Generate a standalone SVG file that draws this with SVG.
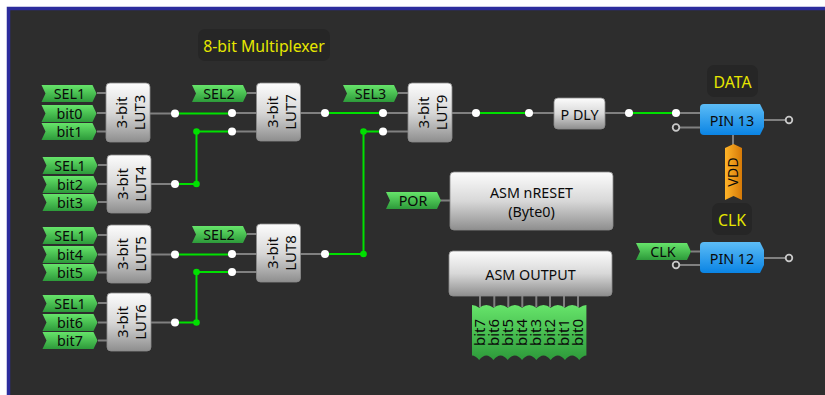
<svg xmlns="http://www.w3.org/2000/svg" width="825" height="395" viewBox="0 0 825 395">
<style>
text{font-family:"Noto Sans","Open Sans",sans-serif;font-size:14.300px;fill:#0a0a0a;text-anchor:middle}
.w{fill:none;stroke:#808080;stroke-width:2}
.g{fill:none;stroke:#00e000;stroke-width:2}
.n{fill:#fff}
.o{fill:#2d2d2d;stroke:#c8c8c8;stroke-width:1.800}
.j{fill:#00e000}
.b{fill:url(#gb);stroke:#8c8c8c;stroke-width:.8}
.t{fill:url(#gt);stroke:none}
.l{fill:#262626}
.y{fill:#e6e600;font-size:15.800px}
.r{font-size:15px}
</style>
<defs>
<linearGradient id="gb" x1="0" y1="0" x2="0" y2="1"><stop offset="0" stop-color="#fcfcfc"/><stop offset=".5" stop-color="#d8d8d8"/><stop offset="1" stop-color="#8e8e8e"/></linearGradient>
<linearGradient id="gt" x1="0" y1="0" x2="0" y2="1"><stop offset="0" stop-color="#66e46a"/><stop offset="1" stop-color="#2d9a3a"/></linearGradient>
<linearGradient id="gp" x1="0" y1="0" x2="0" y2="1"><stop offset="0" stop-color="#5cbcf6"/><stop offset="1" stop-color="#0a84e4"/></linearGradient>
<linearGradient id="go" x1="0" y1="0" x2="1" y2="0"><stop offset="0" stop-color="#ffb428"/><stop offset="1" stop-color="#d67a08"/></linearGradient>
<path id="tag" d="M0 0H51L55 8.500L51 17H0L4 8.500Z"/>
</defs>
<rect width="825" height="395" fill="#fff"/>
<rect x="7" y="7" width="818" height="388" fill="#2d2d2d"/>
<path d="M8.500 395V8.500H825" fill="none" stroke="#2c2c9c" stroke-width="3.500"/>
<g id="connectors">
<path class="w" d="M97 93H106M97 113H106M97 131.500H106M150 113.500H175M98 165H107M98 184H107M98 202H107M151 184H175M98 235H107M98 254.500H107M98 272.500H107M151 254.500H175M98 303H107M98 322.500H107M98 340.500H107M151 322.500H175M247 93H257M232 113H257M232 131.500H257M300 113H325M247 234H257M232 254H257M232 272H257M300 254H325M398 93H408M383 113H408M383 131.500H408M452 113H476M529 113H554M605 113H629M676 113H700M676 127.500H700M764 120H789M733 135V145M691 251.500H700M676 265H700M764 258H789M398 200.500H450M480 296V307M494.300 296V307M508.300 296V307M522.300 296V307M536.300 296V307M550 296V307M564 296V307M578 296V307"/>
<path class="g" d="M175 113.500H232M175 184H196.500V131.500H232M175 254.500H232M175 322.500H196.500V272H232M325 113H383M325 254H363.500V131.500H383M476 113H529M629 113H676"/>
<circle class="j" cx="196.500" cy="131.500" r="3.300"/><circle class="j" cx="196.500" cy="184" r="3.300"/><circle class="j" cx="196.500" cy="272" r="3.300"/><circle class="j" cx="196.500" cy="322.500" r="3.300"/><circle class="j" cx="363.500" cy="131.500" r="3.300"/><circle class="j" cx="363.500" cy="254" r="3.300"/>
<circle class="n" cx="175" cy="113.500" r="4"/><circle class="n" cx="232" cy="113" r="4"/><circle class="n" cx="232" cy="131.500" r="4"/><circle class="n" cx="175" cy="184" r="4"/><circle class="n" cx="175" cy="254.500" r="4"/><circle class="n" cx="232" cy="254" r="4"/><circle class="n" cx="232" cy="272" r="4"/><circle class="n" cx="175" cy="322.500" r="4"/><circle class="n" cx="325" cy="113" r="4"/><circle class="n" cx="325" cy="254" r="4"/><circle class="n" cx="383" cy="113" r="4"/><circle class="n" cx="383" cy="131.500" r="4"/><circle class="n" cx="476" cy="113" r="4"/><circle class="n" cx="529" cy="113" r="4"/><circle class="n" cx="629" cy="113" r="4"/><circle class="n" cx="676" cy="113" r="4"/>
<circle class="o" cx="676" cy="127.500" r="3.300"/><circle class="o" cx="789" cy="120" r="3.300"/><circle class="o" cx="676" cy="265" r="3.300"/><circle class="o" cx="789" cy="258" r="3.300"/>
</g>
<g id="title"><rect class="l" x="198" y="29" width="132" height="32" rx="7"/><text class="y" x="264" y="52">8-bit Multiplexer</text></g>
<g id="label-data"><rect class="l" x="707" y="65" width="51" height="32" rx="7"/><text class="y" x="732.500" y="88">DATA</text></g>
<g id="label-clk"><rect class="l" x="712" y="203" width="40" height="32" rx="7"/><text class="y" x="732" y="226">CLK</text></g>
<g id="tags3">
<use href="#tag" class="t" x="41.500" y="85"/><text x="69.500" y="99">SEL1</text>
<use href="#tag" class="t" x="41.500" y="105"/><text x="69.500" y="119">bit0</text>
<use href="#tag" class="t" x="41.500" y="123"/><text x="69.500" y="137">bit1</text>
</g>
<g id="tags4">
<use href="#tag" class="t" x="42.500" y="157"/><text x="70" y="171">SEL1</text>
<use href="#tag" class="t" x="42.500" y="176"/><text x="70" y="190">bit2</text>
<use href="#tag" class="t" x="42.500" y="194"/><text x="70" y="208">bit3</text>
</g>
<g id="tags5">
<use href="#tag" class="t" x="42.500" y="227"/><text x="70" y="241">SEL1</text>
<use href="#tag" class="t" x="42.500" y="246"/><text x="70" y="260">bit4</text>
<use href="#tag" class="t" x="42.500" y="264"/><text x="70" y="278">bit5</text>
</g>
<g id="tags6">
<use href="#tag" class="t" x="42.500" y="295"/><text x="70" y="309">SEL1</text>
<use href="#tag" class="t" x="42.500" y="314"/><text x="70" y="328">bit6</text>
<use href="#tag" class="t" x="42.500" y="332"/><text x="70" y="346">bit7</text>
</g>
<g id="tag-sel2a"><use href="#tag" class="t" x="192" y="85"/><text x="219" y="99">SEL2</text></g>
<g id="tag-sel2b"><use href="#tag" class="t" x="192" y="226"/><text x="219" y="240">SEL2</text></g>
<g id="tag-sel3"><use href="#tag" class="t" x="343" y="85"/><text x="370.500" y="99">SEL3</text></g>
<g id="tag-por"><use href="#tag" class="t" x="386" y="192"/><text x="413" y="206">POR</text></g>
<g id="tag-clk"><use href="#tag" class="t" x="636" y="243"/><text x="663" y="257">CLK</text></g>
<g id="lut3"><rect class="b" x="106" y="83" width="44" height="59" rx="4"/><text class="r" transform="translate(127 112.500) rotate(-90)">3-bit</text><text class="r" transform="translate(145 112.500) rotate(-90)">LUT3</text></g>
<g id="lut4"><rect class="b" x="107" y="155" width="44" height="58" rx="4"/><text class="r" transform="translate(128 184) rotate(-90)">3-bit</text><text class="r" transform="translate(146 184) rotate(-90)">LUT4</text></g>
<g id="lut5"><rect class="b" x="107" y="225" width="44" height="58" rx="4"/><text class="r" transform="translate(128 254) rotate(-90)">3-bit</text><text class="r" transform="translate(146 254) rotate(-90)">LUT5</text></g>
<g id="lut6"><rect class="b" x="107" y="293" width="44" height="58" rx="4"/><text class="r" transform="translate(128 322) rotate(-90)">3-bit</text><text class="r" transform="translate(146 322) rotate(-90)">LUT6</text></g>
<g id="lut7"><rect class="b" x="256.500" y="83" width="44" height="58" rx="4"/><text class="r" transform="translate(277.500 112) rotate(-90)">3-bit</text><text class="r" transform="translate(295.500 112) rotate(-90)">LUT7</text></g>
<g id="lut8"><rect class="b" x="256.500" y="224" width="44" height="58" rx="4"/><text class="r" transform="translate(277.500 253) rotate(-90)">3-bit</text><text class="r" transform="translate(295.500 253) rotate(-90)">LUT8</text></g>
<g id="lut9"><rect class="b" x="408" y="83" width="44" height="59" rx="4"/><text class="r" transform="translate(429 112.500) rotate(-90)">3-bit</text><text class="r" transform="translate(447 112.500) rotate(-90)">LUT9</text></g>
<g id="pdly"><rect class="b" x="554" y="98" width="51" height="31" rx="4"/><text x="579.500" y="120">P DLY</text></g>
<g id="asm-nreset"><rect class="b" x="450" y="172" width="163" height="58" rx="4"/><text x="531.500" y="198">ASM nRESET</text><text x="531.500" y="217">(Byte0)</text></g>
<g id="asm-output"><rect class="b" x="449" y="251" width="163" height="45" rx="4"/><text x="530.500" y="280">ASM OUTPUT</text></g>
<g id="bits">
<path class="t" d="M472 305q3.600 0 7.150 2.800 3.600-2.800 7.150-2.800 3.600 0 7.150 2.800 3.600-2.800 7.150-2.800 3.600 0 7.150 2.800 3.600-2.800 7.150-2.800 3.600 0 7.150 2.800 3.600-2.800 7.150-2.800 3.600 0 7.150 2.800 3.600-2.800 7.150-2.800 3.600 0 7.150 2.800 3.600-2.800 7.150-2.800 3.600 0 7.150 2.800 3.600-2.800 7.150-2.800 3.600 0 7.150 2.800 3.600-2.800 7.150-2.800V355.500q-3.600 0-7.150 4.500-3.600-4.500-7.150-4.500-3.600 0-7.150 4.500-3.600-4.500-7.150-4.500-3.600 0-7.150 4.500-3.600-4.500-7.150-4.500-3.600 0-7.150 4.500-3.600-4.500-7.150-4.500-3.600 0-7.150 4.500-3.600-4.500-7.150-4.500-3.600 0-7.150 4.500-3.600-4.500-7.150-4.500-3.600 0-7.150 4.500-3.600-4.500-7.150-4.500-3.600 0-7.150 4.500-3.600-4.500-7.150-4.500Z"/>
<text class="r" transform="translate(485 332.500) rotate(-90)">bit7</text><text class="r" transform="translate(499 332.500) rotate(-90)">bit6</text><text class="r" transform="translate(513 332.500) rotate(-90)">bit5</text><text class="r" transform="translate(527 332.500) rotate(-90)">bit4</text><text class="r" transform="translate(541 332.500) rotate(-90)">bit3</text><text class="r" transform="translate(555 332.500) rotate(-90)">bit2</text><text class="r" transform="translate(569 332.500) rotate(-90)">bit1</text><text class="r" transform="translate(583 332.500) rotate(-90)">bit0</text>
</g>
<g id="pin13"><path d="M704 104H760L764 112V127L760 135H704Q700 135 700 131V108Q700 104 704 104Z" fill="url(#gp)"/><text x="732" y="126">PIN 13</text></g>
<g id="pin12"><path d="M704 242H760L764 250V265L760 273H704Q700 273 700 269V246Q700 242 704 242Z" fill="url(#gp)"/><text x="732" y="264">PIN 12</text></g>
<g id="vdd"><path d="M725 148L733.500 144L742 148V200L733.500 196L725 200Z" fill="url(#go)"/><text transform="translate(738 172) rotate(-90)">VDD</text></g>
</svg>
